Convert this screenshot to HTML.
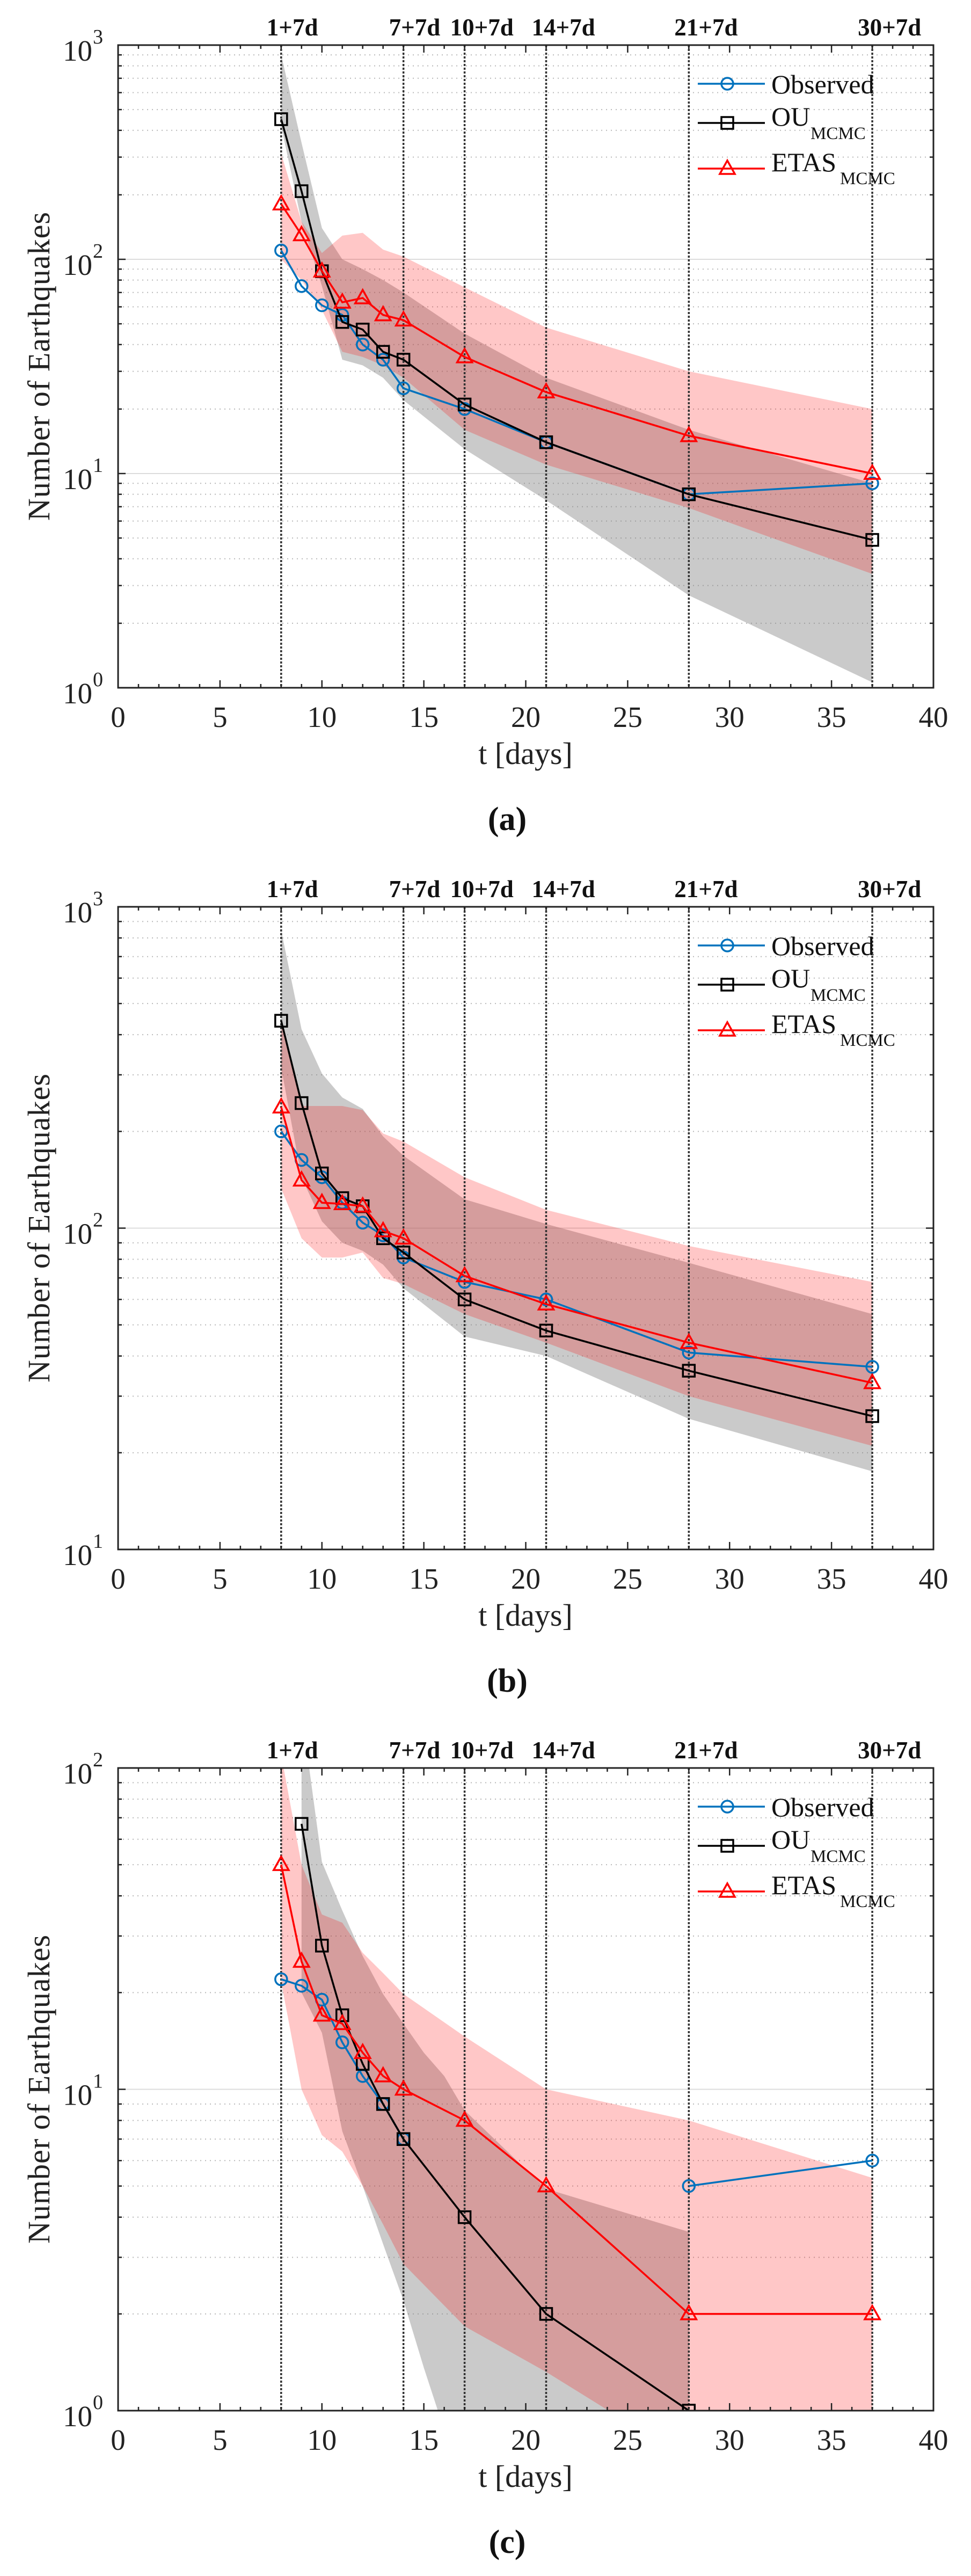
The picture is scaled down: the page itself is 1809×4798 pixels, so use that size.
<!DOCTYPE html>
<html><head><meta charset="utf-8">
<style>
html,body{margin:0;padding:0;background:#fff;}
svg{display:block;font-family:"Liberation Serif",serif;}
</style></head>
<body>
<svg id="fig" width="1809" height="4798" viewBox="0 0 1809 4798" xmlns="http://www.w3.org/2000/svg"></svg>
<script>
// ---- data ----
const days = [8, 9, 10, 11, 12, 13, 14, 17, 21, 28, 37];
const xTicks = [0, 5, 10, 15, 20, 25, 30, 35, 40];
const markerDays = [8, 14, 17, 21, 28, 37];
const markerLabels = ["1+7d", "7+7d", "10+7d", "14+7d", "21+7d", "30+7d"];
const captions = ["(a)", "(b)", "(c)"];
const decadesA = [0, 1, 2, 3];
const decadesB = [1, 2, 3];
const decadesC = [0, 1, 2];

// panel a
const obsA  = [110, 75, 61, 55, 40, 34, 25, 20, 14, 8, 9];
const ouA   = [451, 208, 88, 51, 47, 37, 34, 21, 14, 8, 4.9];
const etasA = [181, 130, 88, 63, 66, 55, 52, 35, 24, 15, 10];
const grayHiA = [900, 350, 140, 100, 90, 80, 70, 45, 28, 16, 9];
const grayLoA = [420, 150, 75, 34, 32, 28, 22, 13, 7.5, 2.7, 1.06];
const redHiA  = [312, 150, 107, 129, 133, 111, 103, 74, 48, 30, 20];
const redLoA  = [100, 80, 58, 37, 35, 32, 28, 16, 11, 6.9, 3.4];
// panel b
const obsB  = [200, 163, 144, 120, 104, 95, 81, 68, 60, 41, 37];
const ouB   = [442, 245, 148, 124, 117, 93, 84, 60, 48, 36, 26];
const etasB = [238, 141, 120, 119, 117, 98, 93, 71, 58, 44, 33];
const grayHiB = [845, 416, 303, 255, 235, 193, 168, 123, 103, 78, 54];
const grayLoB = [316, 144, 105, 90, 85, 77, 65, 46, 40, 25.5, 17.5];
const redHiB  = [433, 240, 240, 240, 233, 197, 186, 144, 114, 88, 68];
const redLoB  = [133, 93, 81, 81, 84, 70, 67, 54, 44, 30, 21];
// panel c
const obsC  = [22, 21, 19, 14, 11, 9, 7, null, null, 5, 6];
const ouC   = [null, 67, 28, 17, 12, 9, 7, 4, 2, 1, null];
const etasC = [50, 25, 17, 16, 13, 11, 10, 8, 5, 2, 2];
const grayDaysC = [9, 10, 11, 12, 13, 14, 15, 16, 17, 21, 28];
const grayHiC = [150, 51, 36, 26, 19.8, 16, 13, 11, 8.6, 4.9, 3.6];
const grayLoC = [20, 15, 7.4, 5.0, 3.3, 2.2, 1.36, 0.87, 0.6, 0.3, 0.2];
const redHiC  = [110, 50, 35, 33, 26.6, 23, 19.8, 14.6, 10, 8, 5.3];
const redLoC  = [21.6, 10, 7.2, 6.4, 5, 3.8, 2.86, 1.83, 1.32, 0.7, 0.5];

const NS = "http://www.w3.org/2000/svg";
const svg = document.getElementById("fig");
function mk(tag, attrs, parent) {
  const e = document.createElementNS(NS, tag);
  for (const k in attrs) e.setAttribute(k, attrs[k]);
  (parent || svg).appendChild(e);
  return e;
}
const X0 = 220, X1 = 1739, H = 1197;

function drawPanel(idx, top, decades, obs, ou, etas, gDays, gHi, gLo, rHi, rLo, ouStart) {
  const bottom = top + H;
  const dmin = decades[0], dmax = decades[decades.length - 1];
  const sx = v => X0 + v / 40 * (X1 - X0);
  const sy = v => bottom - (Math.log10(v) - dmin) / (dmax - dmin) * H;

  const g = mk("g", {});
  
  
  const cid = "clip" + idx;
  const cp = mk("clipPath", {id: cid}, g);
  mk("rect", {x: X0, y: top, width: X1 - X0, height: H}, cp);

  // grid
  const grid = mk("g", {}, g);
  
  
  for (let d = dmin; d < dmax; d++) {
    for (let m = 2; m <= 9; m++) {
      const y = sy(m * Math.pow(10, d));
      mk("line", {x1: X0, x2: X1, y1: y, y2: y, stroke: "#b8b8b8", "stroke-width": 2, "stroke-dasharray": "2 7"}, grid);
    }
    if (d > dmin) {
      const y = sy(Math.pow(10, d));
      mk("line", {x1: X0, x2: X1, y1: y, y2: y, stroke: "#dcdcdc", "stroke-width": 2}, grid);
    }
  }

  // bands
  const band = (xsArr, hi, lo, fill, op, name) => {
    let pts = [];
    xsArr.forEach((d, i) => pts.push(sx(d) + "," + sy(hi[i])));
    for (let i = xsArr.length - 1; i >= 0; i--) pts.push(sx(xsArr[i]) + "," + sy(lo[i]));
    const p = mk("polygon", {points: pts.join(" "), fill: fill, "fill-opacity": op, "clip-path": "url(#" + cid + ")"}, g);
    
    
  };
  band(gDays, gHi, gLo, "#808080", 0.42, "ou-mcmc-band");
  band(days, rHi, rLo, "#ff0000", 0.22, "etas-mcmc-band");

  // vertical marker lines
  markerDays.forEach((d, i) => {
    const x = sx(d);
    const l = mk("line", {x1: x, x2: x, y1: top, y2: bottom, stroke: "#333", "stroke-width": 3.5, "stroke-dasharray": "4 3"}, g);
    
    
    const t = mk("text", {x: x - 27, y: top - 18, "font-size": 45, "font-weight": "bold", fill: "#111"}, g);
    t.textContent = markerLabels[i];
    
    
  });

  // series
  const series = (vals, color, kind, name, startIdx) => {
    const sg = mk("g", {"clip-path": "url(#" + cid + ")"}, g);
    
    
    let seg = [];
    const flush = () => {
      if (seg.length > 1) mk("polyline", {points: seg.join(" "), fill: "none", stroke: color, "stroke-width": 3.5}, sg);
      seg = [];
    };
    vals.forEach((v, i) => {
      if (v === null) { flush(); return; }
      seg.push(sx(days[i]) + "," + sy(v));
    });
    flush();
    vals.forEach((v, i) => {
      if (v === null) return;
      const x = sx(days[i]), y = sy(v);
      let m;
      if (kind === "o") m = mk("circle", {cx: x, cy: y, r: 11, fill: "none", stroke: color, "stroke-width": 3.5}, sg);
      else if (kind === "s") m = mk("rect", {x: x - 11, y: y - 11, width: 22, height: 22, fill: "none", stroke: color, "stroke-width": 3.5}, sg);
      else m = mk("polygon", {points: (x) + "," + (y - 15) + " " + (x - 14) + "," + (y + 10) + " " + (x + 14) + "," + (y + 10), fill: "none", stroke: color, "stroke-width": 3.5}, sg);
      
      
    });
  };
  series(obs, "#0072bd", "o", "observed");
  series(ou, "#000", "s", "ou-mcmc");
  series(etas, "#ff0000", "t", "etas-mcmc");

  // axes box
  const ax = mk("g", {}, g);
  
  
  mk("rect", {x: X0, y: top, width: X1 - X0, height: H, fill: "none", stroke: "#222", "stroke-width": 3}, ax);
  for (let v = 0; v <= 40; v++) {
    const x = sx(v), len = v % 5 === 0 ? 14 : 7;
    mk("line", {x1: x, x2: x, y1: bottom, y2: bottom - len, stroke: "#222", "stroke-width": 2.5}, ax);
    mk("line", {x1: x, x2: x, y1: top, y2: top + len, stroke: "#222", "stroke-width": 2.5}, ax);
  }
  for (let d = dmin; d < dmax; d++) {
    for (let m = 1; m <= 9; m++) {
      const y = sy(m * Math.pow(10, d)), len = m === 1 ? 14 : 7;
      mk("line", {x1: X0, x2: X0 + len, y1: y, y2: y, stroke: "#222", "stroke-width": 2.5}, ax);
      mk("line", {x1: X1, x2: X1 - len, y1: y, y2: y, stroke: "#222", "stroke-width": 2.5}, ax);
    }
  }
  xTicks.forEach(v => {
    const t = mk("text", {x: sx(v), y: bottom + 73, "font-size": 55, "text-anchor": "middle", fill: "#222"}, ax);
    t.textContent = v;
    
    
  });
  decades.forEach(d => {
    const y = sy(Math.pow(10, d));
    const t = mk("text", {x: 172, y: y + 29, "font-size": 55, "text-anchor": "end", fill: "#222"}, ax);
    t.textContent = "10";
    
    
    const s = mk("text", {x: 173, y: y - 3, "font-size": 38, fill: "#222"}, ax);
    s.textContent = d;
  });

  // titles
  const xt = mk("text", {x: 979, y: bottom + 142, "font-size": 58, "text-anchor": "middle", fill: "#222"}, g);
  xt.textContent = "t [days]";
  
  
  const yc = (top + bottom) / 2;
  const yt = mk("text", {x: 0, y: 0, "font-size": 58, "text-anchor": "middle", fill: "#222", transform: "translate(92," + yc + ") rotate(-90)", textLength: 575}, g);
  yt.textContent = "Number of Earthquakes";
  
  
  const cap = mk("text", {x: 945, y: bottom + 265, "font-size": 62, "font-weight": "bold", "text-anchor": "middle", fill: "#111"}, g);
  cap.textContent = captions[idx];
  
  

  // legend
  const lg = mk("g", {}, g);
  
  
  const rows = [
    {c: "#0072bd", k: "o", ly: 72, main: "Observed", tb: 90},
    {c: "#000", k: "s", ly: 145, main: "OU", tb: 150, sub: 175, subx: 1510},
    {c: "#ff0000", k: "t", ly: 230, main: "ETAS", tb: 235, sub: 259, subx: 1565}
  ];
  rows.forEach(r => {
    const y = top + r.ly;
    const e = mk("g", {}, lg);
    
    
    mk("line", {x1: 1300, x2: 1425, y1: y, y2: y, stroke: r.c, "stroke-width": 3.5}, e);
    const x = 1355;
    if (r.k === "o") mk("circle", {cx: x, cy: y, r: 11, fill: "none", stroke: r.c, "stroke-width": 3.5}, e);
    else if (r.k === "s") mk("rect", {x: x - 11, y: y - 11, width: 22, height: 22, fill: "none", stroke: r.c, "stroke-width": 3.5}, e);
    else mk("polygon", {points: x + "," + (y - 15) + " " + (x - 14) + "," + (y + 10) + " " + (x + 14) + "," + (y + 10), fill: "none", stroke: r.c, "stroke-width": 3.5}, e);
    const t = mk("text", {x: 1437, y: top + r.tb, "font-size": 50, fill: "#111"}, e);
    t.textContent = r.main;
    if (r.sub) {
      const s = mk("text", {x: r.subx, y: top + r.sub, "font-size": 33, fill: "#111"}, e);
      s.textContent = "MCMC";
    }
  });
}

drawPanel(0, 84, decadesA, obsA, ouA, etasA, days, grayHiA, grayLoA, redHiA, redLoA);
drawPanel(1, 1689, decadesB, obsB, ouB, etasB, days, grayHiB, grayLoB, redHiB, redLoB);
drawPanel(2, 3293, decadesC, obsC, ouC, etasC, grayDaysC, grayHiC, grayLoC, redHiC, redLoC);
</script>
</body></html>
